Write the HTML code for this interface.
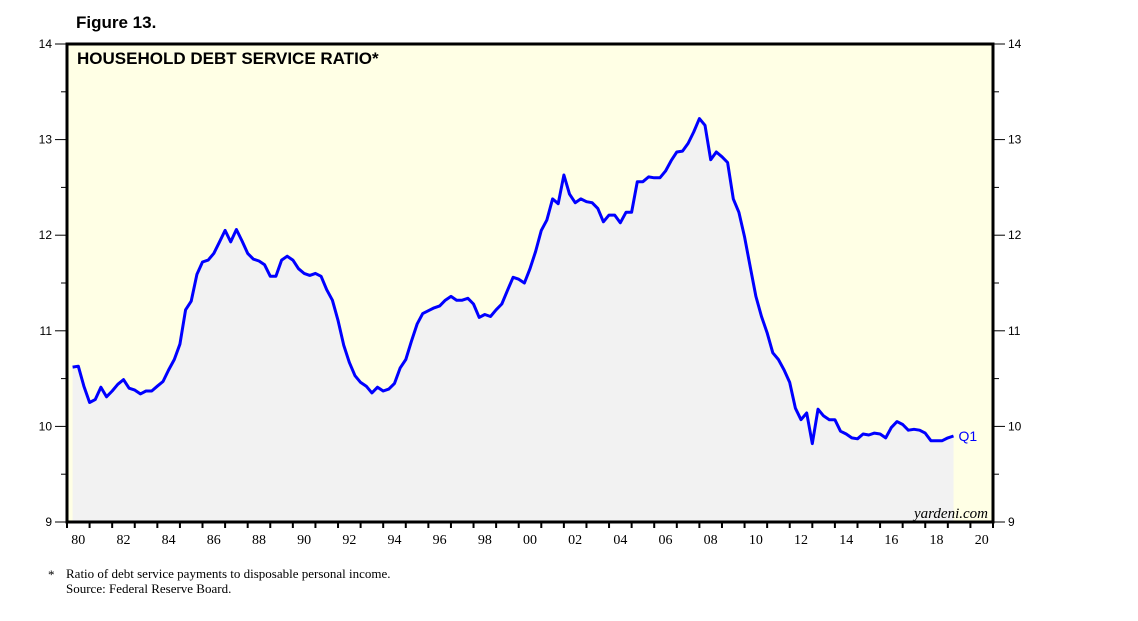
<!DOCTYPE html>
<html><head><meta charset="utf-8"><style>
body{margin:0;background:#fff;width:1138px;height:621px;overflow:hidden}
svg{display:block}
</style></head><body>
<svg id="chart" width="1138" height="621" xmlns="http://www.w3.org/2000/svg">
<text x="76" y="28" font-family="Liberation Sans, sans-serif" font-weight="bold" font-size="17">Figure 13.</text>
<rect x="67" y="44" width="926" height="478" fill="#ffffe5"/>
<g id="fillg"></g>
<g id="lineg"></g>
<rect x="67" y="44" width="926" height="478" fill="none" stroke="#000" stroke-width="3"/>
<text x="77" y="64" font-family="Liberation Sans, sans-serif" font-weight="bold" font-size="17">HOUSEHOLD DEBT SERVICE RATIO*</text>
<text x="988" y="518" text-anchor="end" font-family="Liberation Serif, serif" font-style="italic" font-size="15">yardeni.com</text>
<g id="axes"></g>
<text x="48" y="579" font-family="Liberation Serif, serif" font-size="13">*</text>
<text x="66" y="578" font-family="Liberation Serif, serif" font-size="13">Ratio of debt service payments to disposable personal income.</text>
<text x="66" y="593" font-family="Liberation Serif, serif" font-size="13">Source: Federal Reserve Board.</text>
</svg>
<script>
const startYear = 1980;
const values = [
10.62,10.63,10.42,10.25, 10.28,10.41,10.31,10.37, 10.44,10.49,10.40,10.38, 10.34,10.37,10.37,10.42,
10.47,10.59,10.70,10.86, 11.22,11.31,11.59,11.72, 11.74,11.81,11.93,12.05, 11.93,12.06,11.94,11.81,
11.75,11.73,11.69,11.57, 11.57,11.74,11.78,11.74, 11.65,11.60,11.58,11.60, 11.57,11.43,11.32,11.11,
10.85,10.67,10.53,10.46, 10.42,10.35,10.41,10.37, 10.39,10.45,10.61,10.70, 10.89,11.07,11.18,11.21,
11.24,11.26,11.32,11.36, 11.32,11.32,11.34,11.28, 11.14,11.17,11.15,11.22, 11.28,11.42,11.56,11.54,
11.50,11.65,11.83,12.05, 12.16,12.38,12.33,12.63, 12.43,12.34,12.38,12.35, 12.34,12.28,12.14,12.21,
12.21,12.13,12.24,12.24, 12.56,12.56,12.61,12.60, 12.60,12.67,12.78,12.87, 12.88,12.96,13.08,13.22,
13.15,12.79,12.87,12.82, 12.76,12.38,12.24,11.98, 11.67,11.36,11.15,10.98, 10.77,10.70,10.59,10.46,
10.19,10.07,10.14,9.82, 10.18,10.11,10.07,10.07, 9.95,9.92,9.88,9.87, 9.92,9.91,9.93,9.92,
9.88,9.99,10.05,10.02, 9.96,9.97,9.96,9.93, 9.85,9.85,9.85,9.88, 9.90
];
const yTicks = [9,10,11,12,13,14];
const xLabels = ["80","82","84","86","88","90","92","94","96","98","00","02","04","06","08","10","12","14","16","18","20"];
const lastLabel = "Q1";

const X0=67, X1=993, Y0=522, Y1=44, yMin=9, yMax=14, tMin=1980, tMax=2021;
const xs = t => X0 + (t-tMin)/(tMax-tMin)*(X1-X0);
const ys = v => Y0 - (v-yMin)/(yMax-yMin)*(Y0-Y1);
const NS="http://www.w3.org/2000/svg";
function mk(tag, attrs, parent){const e=document.createElementNS(NS,tag);for(const k in attrs)e.setAttribute(k,attrs[k]);parent.appendChild(e);return e;}
const pts = values.map((v,i)=>[xs(startYear+(i+1)/4), ys(v)]);
const d = pts.map((p,i)=>(i?'L':'M')+p[0].toFixed(1)+','+p[1].toFixed(1)).join('');
const fill = mk('path',{d:d+`L${pts[pts.length-1][0].toFixed(1)},${Y0}L${pts[0][0].toFixed(1)},${Y0}Z`,fill:'#f2f2f2'},document.getElementById('fillg'));


const line = mk('path',{d:d,fill:'none',stroke:'#0000ff','stroke-width':3,'stroke-linejoin':'round'},document.getElementById('lineg'));


const lp = pts[pts.length-1];
const ql = mk('text',{x:lp[0]+5,y:lp[1]+5,fill:'#0000ff','font-family':'Liberation Sans, sans-serif','font-size':14},document.getElementById('lineg'));
ql.textContent=lastLabel;


const ax=document.getElementById('axes');
yTicks.forEach(v=>{
  const y=ys(v);
  mk('line',{x1:X0-12,x2:X0,y1:y,y2:y,stroke:'#000'},ax);
  mk('line',{x1:X1,x2:X1+12,y1:y,y2:y,stroke:'#000'},ax);
  const l=mk('text',{x:X0-15,y:y+4,'text-anchor':'end','font-family':'Liberation Sans, sans-serif','font-size':12},ax);
  l.textContent=v;
  
  
  const r=mk('text',{x:X1+15,y:y+4,'font-family':'Liberation Sans, sans-serif','font-size':12},ax);
  r.textContent=v;
  
  
  if(v<yMax){const m=ys(v+0.5);
    mk('line',{x1:X0-6,x2:X0,y1:m,y2:m,stroke:'#000'},ax);
    mk('line',{x1:X1,x2:X1+6,y1:m,y2:m,stroke:'#000'},ax);}
});
for(let t=tMin;t<=tMax;t++){const x=xs(t);mk('line',{x1:x,x2:x,y1:Y0,y2:Y0+6,stroke:'#000','stroke-width':2},ax);}
xLabels.forEach((s,i)=>{
  const t=tMin+2*i+0.5;
  const l=mk('text',{x:xs(t),y:Y0+22,'text-anchor':'middle','font-family':'Liberation Serif, serif','font-size':14},ax);
  l.textContent=s;
  
  
});
</script>
</body></html>
